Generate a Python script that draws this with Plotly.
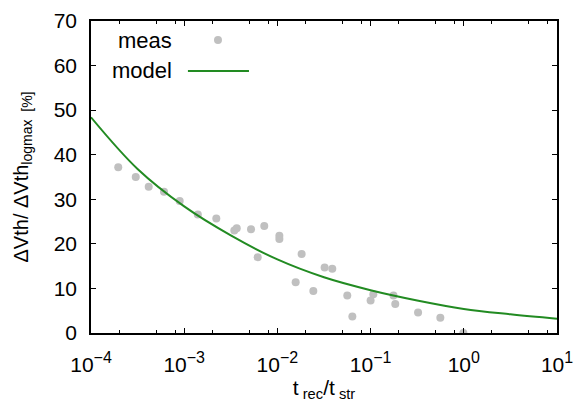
import plotly.graph_objects as go

# Measured recovery data: t_rec/t_str and normalised ΔVth [%]
meas_x = [1.96e-4, 3.02e-4, 4.16e-4, 6.07e-4, 8.95e-4, 1.40e-3, 2.21e-3, 3.45e-3,
          3.66e-3, 5.21e-3, 6.15e-3, 7.23e-3, 1.05e-2, 1.05e-2, 1.57e-2, 1.82e-2,
          2.43e-2, 3.21e-2, 3.88e-2, 5.62e-2, 6.37e-2, 0.100, 0.107, 0.176,
          0.184, 0.323, 0.560, 0.99]
meas_y = [37.2, 35.0, 32.8, 31.7, 29.6, 26.6, 25.7, 23.0,
          23.5, 23.3, 17.0, 24.0, 21.8, 21.1, 11.4, 17.7,
          9.4, 14.7, 14.4, 8.4, 3.7, 7.3, 8.7, 8.4,
          6.5, 4.6, 3.4, 0.0]

# Model curve, sampled every half decade
model_x = [1e-4, 3.16e-4, 1e-3, 3.16e-3, 1e-2, 3.16e-2, 1e-1, 3.16e-1, 1e0, 3.16e0, 1e1]
model_y = [48.4, 36.8, 28.4, 21.9, 16.5, 12.5, 9.6, 7.3, 5.4, 4.2, 3.2]

# Axis ticks
x_tickvals = [1e-4, 1e-3, 1e-2, 1e-1, 1e0, 1e1]
x_exponents = ["−4", "−3", "−2", "−1", "0", "1"]
x_minorvals = [m * d for d in [1e-4, 1e-3, 1e-2, 1e-1, 1e0] for m in (2, 5, 8)]
y_tickvals = [0, 10, 20, 30, 40, 50, 60, 70]

FONT = "Liberation Sans, Arial, sans-serif"
GREY = "#c0c0c0"
GREEN = "#228b22"
FS = 21

x_ticktext = ["10<sup><span style='font-size:16px'>%s</span></sup>" % e for e in x_exponents]

fig = go.Figure()
fig.add_trace(go.Scatter(x=meas_x, y=meas_y, mode="markers", name="meas",
                         marker=dict(color=GREY, size=8, line=dict(width=0))))
fig.add_trace(go.Scatter(x=model_x, y=model_y, mode="lines", name="model",
                         line=dict(color=GREEN, width=2, shape="spline", smoothing=1.0)))

fig.update_layout(
    width=584, height=405,
    margin=dict(l=91, r=27, t=21, b=72),
    paper_bgcolor="white", plot_bgcolor="white",
    showlegend=False,
    font=dict(family=FONT, size=FS, color="black"),
    xaxis=dict(
        type="log", range=[-4, 1], automargin=False,
        tickmode="array", tickvals=x_tickvals, ticktext=x_ticktext,
        ticks="inside", ticklen=5, tickwidth=1, tickcolor="black",
        minor=dict(tickmode="array", tickvals=x_minorvals, ticks="inside",
                   ticklen=3, tickwidth=1, tickcolor="black", showgrid=False),
        showline=True, linecolor="black", linewidth=1.5, mirror="ticks",
        showgrid=False, zeroline=False,
        tickfont=dict(size=FS), ticklabelstandoff=12,
        title=dict(text="t<sub> rec</sub>/t<sub> str</sub>", font=dict(size=FS), standoff=4),
    ),
    yaxis=dict(
        range=[0, 70], tickmode="array", tickvals=y_tickvals, automargin=False,
        ticks="inside", ticklen=5, tickwidth=1, tickcolor="black",
        showline=True, linecolor="black", linewidth=1.5, mirror="ticks",
        showgrid=False, zeroline=False,
        tickfont=dict(size=FS), ticklabelstandoff=8,
        title=dict(text="ΔVth/ ΔVth<sub>logmax  [%]</sub>", font=dict(size=20), standoff=20),
    ),
)

# Key in the upper left: right-aligned labels with their samples to the right
fig.add_annotation(xref="paper", yref="paper", x=0.178, y=0.939, text="meas",
                   showarrow=False, xanchor="right", yanchor="middle",
                   font=dict(size=FS + 1))
fig.add_annotation(xref="paper", yref="paper", x=0.178, y=0.840, text="model",
                   showarrow=False, xanchor="right", yanchor="middle",
                   font=dict(size=FS + 1))
fig.add_shape(type="circle", xref="paper", yref="paper",
              xsizemode="pixel", ysizemode="pixel",
              xanchor=0.2725, yanchor=0.939, x0=-4, x1=4, y0=-4, y1=4,
              fillcolor=GREY, line=dict(width=0))
fig.add_shape(type="line", xref="paper", yref="paper",
              x0=0.208, x1=0.339, y0=0.840, y1=0.840,
              line=dict(color=GREEN, width=2))

fig.write_html("out.html")
